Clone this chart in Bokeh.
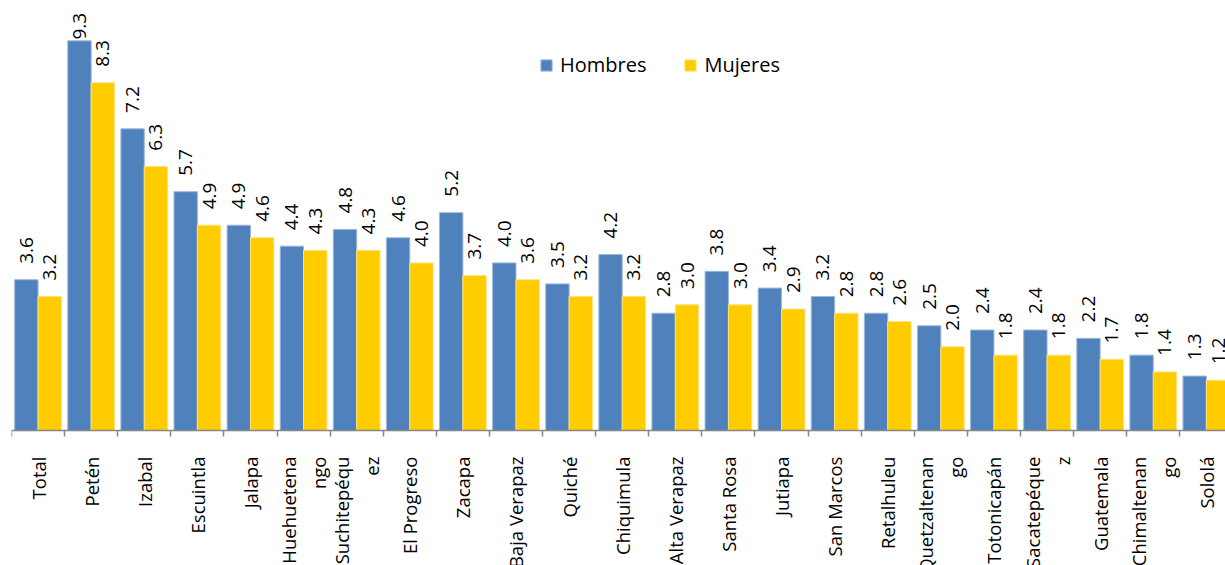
import numpy as np
from bokeh.plotting import figure
from bokeh.models import (ColumnDataSource, Range1d, LinearAxis, FixedTicker,
                          CustomJSTickFormatter, Legend, LegendItem)
from bokeh.core.properties import value
from bokeh.embed import file_html
from bokeh.resources import INLINE

categories = ["Total", "Petén", "Izabal", "Escuintla", "Jalapa", "Huehuetena\nngo",
              "Suchitepéqu\nez", "El Progreso", "Zacapa", "Baja Verapaz", "Quiché",
              "Chiquimula", "Alta Verapaz", "Santa Rosa", "Jutiapa", "San Marcos",
              "Retalhuleu", "Quetzaltenan\ngo", "Totonicapán", "Sacatepéque\nz",
              "Guatemala", "Chimaltenan\ngo", "Sololá"]
hombres = [3.6, 9.3, 7.2, 5.7, 4.9, 4.4, 4.8, 4.6, 5.2, 4.0, 3.5, 4.2, 2.8, 3.8,
           3.4, 3.2, 2.8, 2.5, 2.4, 2.4, 2.2, 1.8, 1.3]
mujeres = [3.2, 8.3, 6.3, 4.9, 4.6, 4.3, 4.3, 4.0, 3.7, 3.6, 3.2, 3.2, 3.0, 3.0,
           2.9, 2.8, 2.6, 2.0, 1.8, 1.8, 1.7, 1.4, 1.2]

BLUE = "#4F81BD"
YELLOW = "#FFCC00"
FONT = "Open Sans"

n = len(categories)
idx = np.arange(n)
YMAX = 10.0
YMIN = -3.22   # room below the baseline for the category labels

p = figure(width=1225, height=565, output_backend="svg", toolbar_location=None,
           x_range=Range1d(0, 22.86), y_range=Range1d(YMIN, YMAX),
           x_axis_location=None, y_axis_location=None,
           min_border_left=11, min_border_right=0, min_border_top=11,
           min_border_bottom=0)
p.outline_line_color = None
p.xgrid.visible = False
p.ygrid.visible = False
p.background_fill_color = "white"

def lab_y(vals):
    v = np.array(vals, dtype=float)
    return np.minimum(v + 0.38, 9.33)

src_h = ColumnDataSource(dict(x=idx + 0.28, top=hombres, ly=lab_y(hombres),
                              txt=[f"{v:.1f}" for v in hombres]))
src_m = ColumnDataSource(dict(x=idx + 0.72, top=mujeres, ly=lab_y(mujeres),
                              txt=[f"{v:.1f}" for v in mujeres]))

rh = p.vbar(x="x", top="top", bottom=0, width=0.44, source=src_h,
            fill_color=BLUE, line_color="#9DB7DA", line_width=1)
rm = p.vbar(x="x", top="top", bottom=0, width=0.44, source=src_m,
            fill_color=YELLOW, line_color="#FFE27A", line_width=1)

for s in (src_h, src_m):
    p.text(x="x", y="ly", text="txt", source=s, angle=np.pi / 2,
           text_align="left", text_baseline="middle",
           text_font=value(FONT), text_font_size="19px", text_color="black")

xaxis = LinearAxis(
    ticker=FixedTicker(ticks=list(idx + 0.5), minor_ticks=list(range(0, n + 1))),
    formatter=CustomJSTickFormatter(args=dict(names=categories),
                                    code="const i = Math.round(tick - 0.5); return names[i] ?? '';"),
    fixed_location=0,
)
xaxis.axis_line_color = "#868686"
xaxis.axis_line_width = 1.5
xaxis.major_tick_out = 0
xaxis.major_tick_in = 0
xaxis.minor_tick_out = 6
xaxis.minor_tick_in = 0
xaxis.minor_tick_line_color = "#868686"
xaxis.minor_tick_line_width = 1.5
xaxis.major_label_orientation = np.pi / 2
xaxis.major_label_standoff = 20
xaxis.major_label_text_font = FONT
xaxis.major_label_text_font_size = "18.5px"
xaxis.major_label_text_color = "black"
xaxis.major_label_text_align = "center"
p.add_layout(xaxis, "below")

legend = Legend(items=[LegendItem(label="Hombres", renderers=[rh]),
                       LegendItem(label="Mujeres", renderers=[rm])],
                orientation="horizontal", location=(528, 487),
                glyph_width=14, glyph_height=14, label_standoff=7, spacing=37,
                padding=0, margin=0, border_line_color=None,
                background_fill_alpha=0,
                label_text_font=FONT, label_text_font_size="20px",
                label_text_color="black")
p.add_layout(legend, "center")

open("out.html", "w").write(file_html(p, INLINE))
